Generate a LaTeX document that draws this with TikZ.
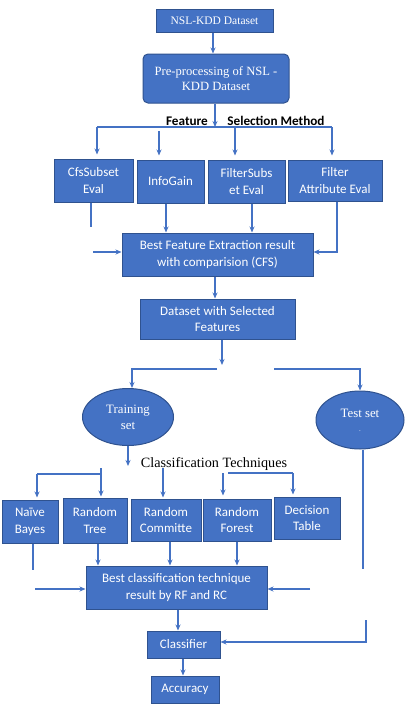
\documentclass[tikz,border=0pt]{standalone}
\usepackage{fontspec}
\setmainfont{Liberation Serif}
\newfontfamily\carl{Carlito}
\usetikzlibrary{arrows.meta,shapes.geometric}
\definecolor{boxblue}{HTML}{4472C4}
\definecolor{boxedge}{HTML}{2F528F}
\definecolor{linkblue}{HTML}{4472C4}
\tikzset{
  bx/.style={draw=boxedge,line width=1pt,fill=boxblue,text=white,align=center,inner sep=0pt,
    font=\carl\fontsize{13}{16.5}\selectfont},
  sbx/.style={bx,font=\fontsize{12.6}{15}\selectfont},
  ell/.style={ellipse,draw=boxedge,line width=1pt,fill=boxblue,text=white,align=center,inner sep=0pt,
    font=\fontsize{12.8}{16}\selectfont},
  ln/.style={draw=linkblue,line width=1.1pt},
  arr/.style={ln,-{Stealth[length=6pt,width=5pt]}},
  lbl/.style={inner sep=0pt,text=black},
}
\begin{document}
\begin{tikzpicture}[x=1pt,y=-1pt]
\useasboundingbox[fill=white] (0,0) rectangle (405,707);
% boxes
\node[sbx,font=\fontsize{11.5}{14}\selectfont,minimum width=117,minimum height=23] (nsl) at (214.5,20.5) {NSL-KDD Dataset};
\node[sbx,rounded corners=5pt,minimum width=146,minimum height=49] (pre) at (216,78.5) {Pre-processing of NSL -\\KDD Dataset};
\node[bx,minimum width=79,minimum height=43] (cfs) at (93.5,180.5) {CfsSubset\\Eval};
\node[bx,minimum width=67,minimum height=43] (ig) at (170.5,181.5) {InfoGain};
\node[bx,minimum width=77,minimum height=43] (fse) at (246.5,181.5) {FilterSubs\\et Eval};
\node[bx,minimum width=94,minimum height=41] (fae) at (335,180.5) {Filter\\Attribute Eval};
\node[bx,minimum width=191,minimum height=43] (bfe) at (217.5,254.5) {Best Feature Extraction result\\with comparision (CFS)};
\node[bx,minimum width=155,minimum height=40] (dsf) at (217.5,319) {Dataset with Selected\\Features};
\node[ell,minimum width=91,minimum height=57] (train) at (128,417) {Training\\set};
\node[ell,minimum width=88,minimum height=58] (test) at (360,420) {Test set\\[-2pt]{\scriptsize .}};
\node[bx,minimum width=56,minimum height=43] (nb) at (30,521.5) {Naïve\\Bayes};
\node[bx,minimum width=64,minimum height=45] (rt) at (95,520.5) {Random\\Tree};
\node[bx,minimum width=70,minimum height=42] (rc) at (166,520) {Random\\Committe};
\node[bx,minimum width=68,minimum height=42] (rf) at (237,520) {Random\\Forest};
\node[bx,minimum width=66,minimum height=42] (dt) at (307,518) {Decision\\Table};
\node[bx,minimum width=181,minimum height=43] (bct) at (176.5,587.5) {Best classification technique\\result by RF and RC};
\node[bx,minimum width=73,minimum height=27] (clf) at (183.5,644.5) {Classifier};
\node[bx,minimum width=68,minimum height=27] (acc) at (185,689.5) {Accuracy};
% labels
\node[lbl,font=\carl\bfseries\fontsize{13.2}{15}\selectfont] (lf) at (187,121) {Feature};
\node[lbl,font=\carl\bfseries\fontsize{13.2}{15}\selectfont] (ls) at (276,121) {Selection Method};
\node[lbl,font=\fontsize{14.2}{16}\selectfont] (lc) at (214,464) {Classification Techniques};
% coordinates
\coordinate (fl) at (97,127);
\coordinate (fm) at (215,127);
\coordinate (fr) at (332,127);
\coordinate (igs) at (159,131);
\coordinate (fss) at (235,127);
\coordinate (cfe) at (91,227);
\coordinate (bfl) at (93,252);
\coordinate (fac) at (337,252);
\coordinate (dse) at (222,365);
\coordinate (sl1) at (217,369);
\coordinate (sl2) at (132,369);
\coordinate (sr1) at (274,369);
\coordinate (sr2) at (360,369);
\coordinate (tre) at (128,466);
\coordinate (cl1) at (37,474);
\coordinate (cl2) at (101,474);
\coordinate (rts) at (101,468);
\coordinate (rcs) at (163,468);
\coordinate (rfs) at (223,473);
\coordinate (dt1) at (228,473);
\coordinate (dt2) at (293,473);
\coordinate (nbe) at (33,570);
\coordinate (bcl) at (35,589);
\coordinate (bcr) at (310,589);
\coordinate (tse) at (363,569);
\coordinate (tc1) at (366,620);
\coordinate (tc2) at (366,642);
% connectors
\draw[arr] ([xshift=-1.5pt]nsl.south) -- ([xshift=-1.5pt]nsl.south |- pre.north);
\draw[arr] ([xshift=-1pt]pre.south) -- (fm);
\draw[ln] (fl) -- (fr);
\draw[arr,shorten >=4pt] (fl) -- (fl |- cfs.north);
\draw[arr,shorten >=4pt] (igs) -- (igs |- ig.north);
\draw[arr,shorten >=4pt] (fss) -- (fss |- fse.north);
\draw[arr,shorten >=4pt] (fr) -- (fr |- fae.north);
\draw[ln] (cfe |- cfs.south) -- (cfe);
\draw[arr] (bfl) -- (bfl -| bfe.west);
\draw[arr] ([xshift=-4.5pt]ig.south) -- ([xshift=-4.5pt]ig.south |- bfe.north);
\draw[arr] ([xshift=5.5pt]fse.south) -- ([xshift=5.5pt]fse.south |- bfe.north);
\draw[arr] (fac |- fae.south) -- (fac) -- (fac -| bfe.east);
\draw[arr] ([xshift=-2.5pt]bfe.south) -- ([xshift=-2.5pt]bfe.south |- dsf.north);
\draw[arr] (dse |- dsf.south) -- (dse);
\draw[arr] (sl1) -- (sl2) -- (sl2 |- train.north);
\draw[arr] (sr1) -- (sr2) -- (test.north);
\draw[arr] (train.south) -- (tre);
\draw[ln] (cl1) -- (cl2);
\draw[arr,shorten >=2pt] (cl1) -- (cl1 |- nb.north);
\draw[arr,shorten >=1pt] (rts) -- (rts |- rt.north);
\draw[arr,shorten >=1pt] (rcs) -- (rcs |- rc.north);
\draw[arr,shorten >=3pt] (rfs) -- (rfs |- rf.north);
\draw[ln] (dt1) -- (dt2);
\draw[arr,shorten >=2pt] (dt2) -- (dt2 |- dt.north);
\draw[ln] (nbe |- nb.south) -- (nbe);
\draw[arr] ([xshift=3pt]rt.south) -- ([xshift=3pt]rt.south |- bct.north);
\draw[arr] ([xshift=4pt]rc.south) -- ([xshift=4pt]rc.south |- bct.north);
\draw[arr] (rf.south) -- (rf.south |- bct.north);
\draw[arr] (bcl) -- (bcl -| bct.west);
\draw[arr] (bcr) -- (bcr -| bct.east);
\draw[arr] ([xshift=1.5pt]bct.south) -- ([xshift=1.5pt]bct.south |- clf.north);
\draw[arr] ([xshift=-0.5pt]clf.south) -- ([xshift=-0.5pt]clf.south |- acc.north);
\draw[ln] (tse |- test.south) -- (tse);
\draw[arr] (tc1) -- (tc2) -- (tc2 -| clf.east);
\end{tikzpicture}
\end{document}
